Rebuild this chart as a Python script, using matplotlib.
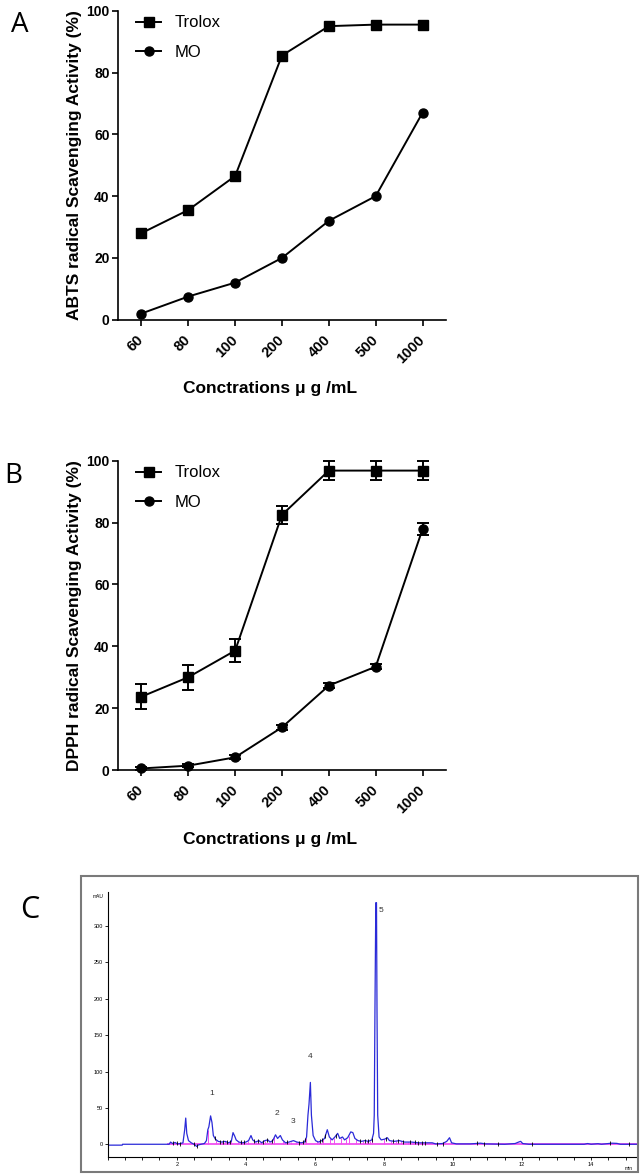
import numpy as np
import matplotlib
matplotlib.use("Agg")
import matplotlib.pyplot as plt
from matplotlib.patches import Rectangle
from matplotlib.lines import Line2D
from matplotlib.ticker import MultipleLocator

# =========================
# Data
# =========================
conc_labels = ["60", "80", "100", "200", "400", "500", "1000"]

# A: ABTS scavenging (%)
abts_trolox = [28, 35.5, 46.5, 85.5, 95, 95.5, 95.5]
abts_mo = [2, 7.5, 12, 20, 32, 40, 67]

# B: DPPH scavenging (%), with SD
dpph_trolox = [23.7, 30, 38.6, 82.5, 96.8, 96.8, 96.8]
dpph_trolox_err = [4, 4, 3.8, 3, 3, 3, 3]
dpph_mo = [0.5, 1.4, 4.1, 13.8, 27.3, 33.4, 77.9]
dpph_mo_err = [0.4, 0.5, 0.6, 0.8, 0.8, 0.8, 1.8]

# C: HPLC chromatogram (min, mAU)
hplc_time = [0.0, 0.42, 0.43, 1.78, 1.82, 1.88, 1.95, 2.02, 2.10, 2.18, 2.23, 2.26,
             2.29, 2.34, 2.42, 2.50, 2.58, 2.62, 2.70, 2.80, 2.86, 2.90, 2.93, 2.98,
             3.02, 3.06, 3.12, 3.20, 3.30, 3.40, 3.50, 3.58, 3.63, 3.68, 3.72, 3.80,
             3.90, 4.00, 4.08, 4.15, 4.20, 4.28, 4.38, 4.46, 4.55, 4.64, 4.70, 4.78,
             4.86, 4.92, 5.00, 5.06, 5.15, 5.25, 5.38, 5.48, 5.60, 5.70, 5.76, 5.80,
             5.83, 5.87, 5.90, 5.95, 6.02, 6.10, 6.20, 6.28, 6.36, 6.42, 6.50, 6.58,
             6.66, 6.72, 6.80, 6.86, 6.95, 7.04, 7.10, 7.16, 7.25, 7.35, 7.45, 7.55,
             7.65, 7.70, 7.72, 7.74, 7.765, 7.785, 7.80, 7.82, 7.86, 7.92, 8.02, 8.10,
             8.16, 8.30, 8.45, 8.60, 8.80, 9.00, 9.20, 9.40, 9.50, 9.70, 9.82, 9.90,
             9.96, 10.10, 10.50, 10.80, 10.95, 11.20, 11.50, 11.80, 11.90, 11.96, 12.02,
             12.20, 13.80, 13.90, 14.00, 14.20, 14.30, 14.60, 14.75, 14.85, 15.33]
hplc_mau = [-1.2, -1.2, 0, 0, 3, 1, 2.5, 0.5, 1, 2, 20, 36,
            15, 5, 2, 0, -3, -1, 0, 1, 5, 20, 24, 39,
            30, 12, 7, 4, 3, 4, 2, 4, 16, 11, 6, 3,
            2, 3, 5, 12, 6, 3, 5, 2, 5, 6, 3, 5,
            13, 8, 12, 6, 2, 3, 5, 3, 2, 3, 10, 40,
            55, 85, 40, 12, 5, 3, 5, 8, 20, 10, 6, 10,
            15, 8, 10, 6, 9, 17, 16, 8, 5, 4, 5, 4,
            6, 15, 40, 182, 332, 332, 182, 40, 10, 6, 7, 9,
            5, 4, 5, 3, 3, 2, 2, 2, 0.5, 1, 4, 9,
            2, 0.5, 0.5, 1.5, 0.5, 0.3, 0, 1, 3, 4, 1,
            0, 0, 1, 0, 0.8, 0, 1.5, 1.2, 0, 0]

peak_names = ["1", "2", "3", "4", "5"]
peak_name_time = [3.0, 4.9, 5.38, 5.87, 7.92]
peak_name_mau = [70, 42, 31, 120, 321]

# integration drop lines (pink) and event marks (black)
drop_times = [1.85, 2.0, 2.1, 2.9, 3.15, 3.3, 3.4, 3.58, 3.78, 3.9, 4.05, 4.3,
              4.45, 4.55, 4.72, 4.83, 5.08, 5.3, 5.45, 5.55, 5.75, 6.05, 6.12,
              6.25, 6.45, 6.55, 6.75, 6.9, 6.98, 7.2, 7.4, 7.52, 7.6, 7.66, 8.0,
              8.2, 8.35, 8.5, 8.7, 8.85, 8.95, 9.05, 9.15]
event_times = [1.9, 2.0, 2.1, 2.5, 2.6, 3.1, 3.25, 3.35, 3.45, 3.55, 3.85, 3.95,
               4.25, 4.35, 4.5, 4.6, 4.75, 5.2, 5.55, 5.65, 5.72, 6.15, 6.22, 6.3,
               6.6, 7.3, 7.45, 7.55, 7.65, 8.05, 8.25, 8.4, 8.55, 8.75, 8.9, 9.0,
               9.1, 9.2, 9.55, 9.7, 10.7, 10.9, 11.3, 12.3, 14.55, 15.1]

W, H = 641, 1176
FONT = ["Liberation Sans", "DejaVu Sans"]


def px_axes(fig, left, top, right, bottom):
    return fig.add_axes([left / W, 1 - bottom / H, (right - left) / W, (bottom - top) / H])


def style_dose_axis(ax, ylabel):
    for s in ["top", "right"]:
        ax.spines[s].set_visible(False)
    for s in ["left", "bottom"]:
        ax.spines[s].set_linewidth(1.2)
    ax.set_xlim(-0.5, 6.5)
    ax.set_ylim(0, 100)
    ax.set_yticks(range(0, 101, 20))
    ax.set_xticks(range(len(conc_labels)))
    ax.set_xticklabels(conc_labels, rotation=45, ha="right", va="center",
                       rotation_mode="anchor")
    ax.tick_params(direction="out", length=4, width=1.2, labelsize=10, pad=2)
    ax.tick_params(axis="x", labelsize=10.5, pad=9)
    for lab in ax.get_xticklabels() + ax.get_yticklabels():
        lab.set_fontweight("bold")
    ax.set_ylabel(ylabel, fontsize=12.5, fontweight="bold", labelpad=3)
    ax.set_xlabel("Conctrations \u03bc g /mL", fontsize=12.5, fontweight="bold")
    ax.xaxis.set_label_coords(0.465, -0.2)

    # plain legend handles (no error bars), like the original
    handles = [Line2D([], [], color="black", lw=1.4, marker="s", ms=6.5),
               Line2D([], [], color="black", lw=1.4, marker="o", ms=6.5)]
    ax.legend(handles, ["Trolox", "MO"], loc="upper left",
              bbox_to_anchor=(0.055, 0.985), frameon=False, fontsize=12,
              handlelength=1.5, handletextpad=0.8, labelspacing=0.85,
              borderpad=0, borderaxespad=0)


def main():
    plt.rcParams["font.family"] = FONT
    fig = plt.figure(figsize=(W / 100, H / 100), dpi=100)

    x = np.arange(len(conc_labels))
    line_kw = dict(color="black", lw=1.4, ms=6.5, clip_on=False)

    # =========================
    # A: ABTS
    # =========================
    axA = px_axes(fig, 118, 10.7, 446, 319.7)
    axA.plot(x, abts_trolox, marker="s", **line_kw)
    axA.plot(x, abts_mo, marker="o", **line_kw)
    style_dose_axis(axA, "ABTS radical Scavenging Activity (%)")

    # =========================
    # B: DPPH (with error bars)
    # =========================
    axB = px_axes(fig, 118, 460.7, 446, 770)
    err_kw = dict(elinewidth=1.4, capsize=4, capthick=1.4)
    axB.errorbar(x, dpph_trolox, yerr=dpph_trolox_err, marker="s", **err_kw, **line_kw)
    axB.errorbar(x, dpph_mo, yerr=dpph_mo_err, marker="o", **err_kw, **line_kw)
    style_dose_axis(axB, "DPPH radical Scavenging Activity (%)")

    # =========================
    # C: HPLC chromatogram
    # =========================
    fig.patches.append(Rectangle((80.7 / W, 1 - 1172 / H), 557 / W, 296.3 / H,
                                 transform=fig.transFigure, fill=False,
                                 ec="#7a7a7a", lw=1.5))
    axC = px_axes(fig, 107.7, 892, 637, 1157)
    t = np.array(hplc_time)
    y = np.array(hplc_mau)

    # pink baseline and drop lines
    axC.plot([1.75, t[-1]], [0, 0], color="#f050f0", lw=1.3, zorder=1)
    drop_y = np.interp(drop_times, t, y)
    axC.vlines(drop_times, 0, drop_y, color="#f050f0", lw=0.7, zorder=1)

    axC.plot(t, y, color="#2a2ad8", lw=0.9, zorder=2)
    axC.plot(event_times, np.interp(event_times, t, y), ls="none", marker="|",
             color="black", ms=3, mew=0.6, zorder=3)

    for name, pt, pm in zip(peak_names, peak_name_time, peak_name_mau):
        axC.text(pt, pm, name, fontsize=6, ha="center", va="center", color="#333333")

    for s in ["top", "right"]:
        axC.spines[s].set_visible(False)
    for s in ["left", "bottom"]:
        axC.spines[s].set_linewidth(0.8)
    axC.set_xlim(0, 15.33)
    axC.set_ylim(-17.5, 346.7)
    axC.set_yticks(range(0, 301, 50))
    axC.set_xticks(range(2, 15, 2))
    axC.xaxis.set_minor_locator(MultipleLocator(0.5))
    axC.tick_params(which="both", direction="out", length=2, width=0.6,
                    labelsize=4, pad=1.5)
    axC.text(-0.28, 340, "mAU", fontsize=3.5, ha="center", va="center", clip_on=False)
    axC.text(0.985, -0.035, "min", fontsize=3.5, ha="center", va="top",
             transform=axC.transAxes)

    # panel letters
    fig.text(20 / W, 1 - 25 / H, "A", fontsize=20, family="Open Sans",
             ha="center", va="center")
    fig.text(13 / W, 1 - 476 / H, "B", fontsize=20, family="Open Sans",
             ha="center", va="center")
    fig.text(30 / W, 1 - 910 / H, "C", fontsize=22, family="Open Sans",
             ha="center", va="center")

    fig.savefig("out.png", dpi=100)
    plt.close(fig)


if __name__ == "__main__":
    main()
